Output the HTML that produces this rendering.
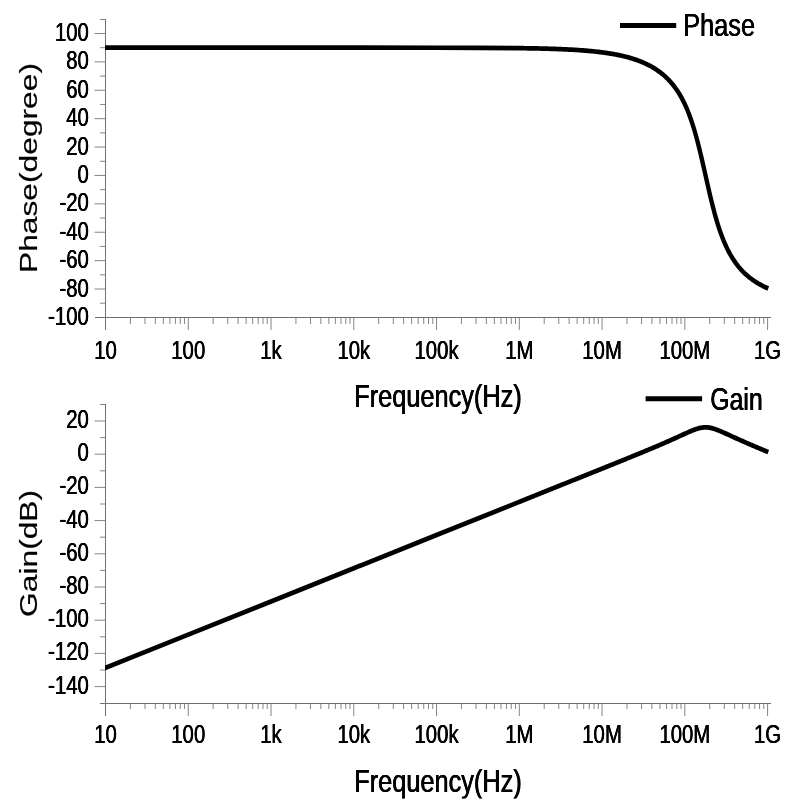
<!DOCTYPE html>
<html><head><meta charset="utf-8"><title>Bode plot</title>
<style>html,body{margin:0;padding:0;background:#fff}svg{display:block}
text{font-family:"Liberation Sans",Arial,sans-serif;fill:#000}
.k{font-size:25.4px;text-shadow:.3px 0 #000,-.3px 0 #000}
.h{font-size:31.6px;text-shadow:.36px 0 #000,-.36px 0 #000}
.v{font-size:31.75px;text-anchor:middle;stroke:#000;stroke-width:.25px}
.e{text-anchor:end}.m{text-anchor:middle}</style>
</head><body>
<svg width="798" height="811" viewBox="0 0 798 811">
<rect width="798" height="811" fill="#fff"/>
<path d="M105.5 19V330.00M94.5 317.5H770.5" stroke="#707070" stroke-width="1" fill="none" shape-rendering="crispEdges"/>
<path d="M94.5 289.01H105.0M94.5 260.62H105.0M94.5 232.23H105.0M94.5 203.84H105.0M94.5 175.45H105.0M94.5 147.06H105.0M94.5 118.67H105.0M94.5 90.28H105.0M94.5 61.89H105.0M94.5 33.5H105.0M100.0 303.2H105.0M100.0 274.81H105.0M100.0 246.43H105.0M100.0 218.03H105.0M100.0 189.65H105.0M100.0 161.25H105.0M100.0 132.87H105.0M100.0 104.47H105.0M100.0 76.09H105.0M100.0 47.7H105.0M100.0 19.5H105.0M130.41 318.0v6.0M144.99 318.0v6.0M155.33 318.0v6.0M163.35 318.0v6.0M169.9 318.0v6.0M175.44 318.0v6.0M180.24 318.0v6.0M184.47 318.0v6.0M188.26 318.0V330.0M213.17 318.0v6.0M227.75 318.0v6.0M238.09 318.0v6.0M246.11 318.0v6.0M252.66 318.0v6.0M258.2 318.0v6.0M263.0 318.0v6.0M267.23 318.0v6.0M271.02 318.0V330.0M295.93 318.0v6.0M310.51 318.0v6.0M320.85 318.0v6.0M328.87 318.0v6.0M335.42 318.0v6.0M340.96 318.0v6.0M345.76 318.0v6.0M349.99 318.0v6.0M353.78 318.0V330.0M378.69 318.0v6.0M393.27 318.0v6.0M403.61 318.0v6.0M411.63 318.0v6.0M418.18 318.0v6.0M423.72 318.0v6.0M428.52 318.0v6.0M432.75 318.0v6.0M436.54 318.0V330.0M461.45 318.0v6.0M476.03 318.0v6.0M486.37 318.0v6.0M494.39 318.0v6.0M500.94 318.0v6.0M506.48 318.0v6.0M511.28 318.0v6.0M515.51 318.0v6.0M519.3 318.0V330.0M544.21 318.0v6.0M558.79 318.0v6.0M569.13 318.0v6.0M577.15 318.0v6.0M583.7 318.0v6.0M589.24 318.0v6.0M594.04 318.0v6.0M598.27 318.0v6.0M602.06 318.0V330.0M626.97 318.0v6.0M641.55 318.0v6.0M651.89 318.0v6.0M659.91 318.0v6.0M666.46 318.0v6.0M672.0 318.0v6.0M676.8 318.0v6.0M681.03 318.0v6.0M684.82 318.0V330.0M709.73 318.0v6.0M724.31 318.0v6.0M734.65 318.0v6.0M742.67 318.0v6.0M749.22 318.0v6.0M754.76 318.0v6.0M759.56 318.0v6.0M763.79 318.0v6.0M767.58 318.0V330.0" stroke="#868686" stroke-width="1" fill="none"/>
<path d="M105.5 404V716.00M100.0 703.5H770.5" stroke="#707070" stroke-width="1" fill="none" shape-rendering="crispEdges"/>
<path d="M94.5 686.6H105.0M94.5 653.4H105.0M94.5 620.2H105.0M94.5 587.0H105.0M94.5 553.8H105.0M94.5 520.6H105.0M94.5 487.4H105.0M94.5 454.2H105.0M94.5 421.0H105.0M100.0 670.0H105.0M100.0 636.8H105.0M100.0 603.6H105.0M100.0 570.4H105.0M100.0 537.2H105.0M100.0 504.0H105.0M100.0 470.8H105.0M100.0 437.6H105.0M100.0 404.5H105.0M130.41 704.0v5.0M144.99 704.0v5.0M155.33 704.0v5.0M163.35 704.0v5.0M169.9 704.0v5.0M175.44 704.0v5.0M180.24 704.0v5.0M184.47 704.0v5.0M188.26 704.0V716.0M213.17 704.0v5.0M227.75 704.0v5.0M238.09 704.0v5.0M246.11 704.0v5.0M252.66 704.0v5.0M258.2 704.0v5.0M263.0 704.0v5.0M267.23 704.0v5.0M271.02 704.0V716.0M295.93 704.0v5.0M310.51 704.0v5.0M320.85 704.0v5.0M328.87 704.0v5.0M335.42 704.0v5.0M340.96 704.0v5.0M345.76 704.0v5.0M349.99 704.0v5.0M353.78 704.0V716.0M378.69 704.0v5.0M393.27 704.0v5.0M403.61 704.0v5.0M411.63 704.0v5.0M418.18 704.0v5.0M423.72 704.0v5.0M428.52 704.0v5.0M432.75 704.0v5.0M436.54 704.0V716.0M461.45 704.0v5.0M476.03 704.0v5.0M486.37 704.0v5.0M494.39 704.0v5.0M500.94 704.0v5.0M506.48 704.0v5.0M511.28 704.0v5.0M515.51 704.0v5.0M519.3 704.0V716.0M544.21 704.0v5.0M558.79 704.0v5.0M569.13 704.0v5.0M577.15 704.0v5.0M583.7 704.0v5.0M589.24 704.0v5.0M594.04 704.0v5.0M598.27 704.0v5.0M602.06 704.0V716.0M626.97 704.0v5.0M641.55 704.0v5.0M651.89 704.0v5.0M659.91 704.0v5.0M666.46 704.0v5.0M672.0 704.0v5.0M676.8 704.0v5.0M681.03 704.0v5.0M684.82 704.0V716.0M709.73 704.0v5.0M724.31 704.0v5.0M734.65 704.0v5.0M742.67 704.0v5.0M749.22 704.0v5.0M754.76 704.0v5.0M759.56 704.0v5.0M763.79 704.0v5.0M767.58 704.0V716.0" stroke="#868686" stroke-width="1" fill="none"/>
<g opacity="0.999">
<text class="k e" transform="translate(88.80 325.00) scale(0.8 1)">-100</text>
<text class="k e" transform="translate(88.80 296.61) scale(0.8 1)">-80</text>
<text class="k e" transform="translate(88.80 268.22) scale(0.8 1)">-60</text>
<text class="k e" transform="translate(88.80 239.83) scale(0.8 1)">-40</text>
<text class="k e" transform="translate(88.80 211.44) scale(0.8 1)">-20</text>
<text class="k e" transform="translate(88.80 183.05) scale(0.8 1)">0</text>
<text class="k e" transform="translate(88.80 154.66) scale(0.8 1)">20</text>
<text class="k e" transform="translate(88.80 126.27) scale(0.8 1)">40</text>
<text class="k e" transform="translate(88.80 97.88) scale(0.8 1)">60</text>
<text class="k e" transform="translate(88.80 69.49) scale(0.8 1)">80</text>
<text class="k e" transform="translate(88.80 41.10) scale(0.8 1)">100</text>
<text class="k e" transform="translate(88.80 693.60) scale(0.8 1)">-140</text>
<text class="k e" transform="translate(88.80 660.40) scale(0.8 1)">-120</text>
<text class="k e" transform="translate(88.80 627.20) scale(0.8 1)">-100</text>
<text class="k e" transform="translate(88.80 594.00) scale(0.8 1)">-80</text>
<text class="k e" transform="translate(88.80 560.80) scale(0.8 1)">-60</text>
<text class="k e" transform="translate(88.80 527.60) scale(0.8 1)">-40</text>
<text class="k e" transform="translate(88.80 494.40) scale(0.8 1)">-20</text>
<text class="k e" transform="translate(88.80 461.20) scale(0.8 1)">0</text>
<text class="k e" transform="translate(88.80 428.00) scale(0.8 1)">20</text>
<text class="k m" transform="translate(105.50 358.70) scale(0.8 1)">10</text>
<text class="k m" transform="translate(105.50 743.40) scale(0.8 1)">10</text>
<text class="k m" transform="translate(188.26 358.70) scale(0.8 1)">100</text>
<text class="k m" transform="translate(188.26 743.40) scale(0.8 1)">100</text>
<text class="k m" transform="translate(271.02 358.70) scale(0.8 1)">1k</text>
<text class="k m" transform="translate(271.02 743.40) scale(0.8 1)">1k</text>
<text class="k m" transform="translate(353.78 358.70) scale(0.8 1)">10k</text>
<text class="k m" transform="translate(353.78 743.40) scale(0.8 1)">10k</text>
<text class="k m" transform="translate(436.54 358.70) scale(0.8 1)">100k</text>
<text class="k m" transform="translate(436.54 743.40) scale(0.8 1)">100k</text>
<text class="k m" transform="translate(519.30 358.70) scale(0.8 1)">1M</text>
<text class="k m" transform="translate(519.30 743.40) scale(0.8 1)">1M</text>
<text class="k m" transform="translate(602.06 358.70) scale(0.8 1)">10M</text>
<text class="k m" transform="translate(602.06 743.40) scale(0.8 1)">10M</text>
<text class="k m" transform="translate(684.82 358.70) scale(0.8 1)">100M</text>
<text class="k m" transform="translate(684.82 743.40) scale(0.8 1)">100M</text>
<text class="k m" transform="translate(767.58 358.70) scale(0.8 1)">1G</text>
<text class="k m" transform="translate(767.58 743.40) scale(0.8 1)">1G</text>
<text class="h m" transform="translate(438.00 407.10) scale(0.8025 1)">Frequency(Hz)</text>
<text class="h m" transform="translate(438.00 791.60) scale(0.8025 1)">Frequency(Hz)</text>
<text class="h" transform="translate(683.20 35.80) scale(0.8025 1)">Phase</text>
<text class="h" transform="translate(710.30 410.00) scale(0.785 1)">Gain</text>
<text class="v" transform="translate(37.3 168) rotate(-90) scale(1 0.775)">Phase(degree)</text>
<text class="v" transform="translate(37.2 553.4) rotate(-90) scale(1 0.775)">Gain(dB)</text>
</g>
<clipPath id="cp"><rect x="105" y="0" width="693" height="811"/></clipPath>
<g clip-path="url(#cp)"><g transform="scale(0.93 1)" fill="none" stroke="#000" stroke-width="4.7" stroke-linejoin="round">
<path d="M104.54 47.70L113.44 47.70L202.43 47.70L291.42 47.70L380.41 47.70L469.40 47.74L513.89 47.84L558.39 48.16L559.50 48.17L560.61 48.19L561.72 48.20L562.84 48.22L563.95 48.23L565.06 48.25L566.17 48.26L567.29 48.28L568.40 48.30L569.51 48.31L570.62 48.33L571.74 48.35L572.85 48.37L573.96 48.39L575.07 48.41L576.18 48.43L577.30 48.45L578.41 48.47L579.52 48.50L580.63 48.52L581.75 48.54L582.86 48.57L583.97 48.59L585.08 48.62L586.20 48.65L587.31 48.68L588.42 48.70L589.53 48.73L590.65 48.76L591.76 48.80L592.87 48.83L593.98 48.86L595.10 48.89L596.21 48.93L597.32 48.97L598.43 49.00L599.54 49.04L600.66 49.08L601.77 49.12L602.88 49.16L603.99 49.21L605.11 49.25L606.22 49.29L607.33 49.34L608.44 49.39L609.56 49.44L610.67 49.49L611.78 49.54L612.89 49.60L614.01 49.65L615.12 49.71L616.23 49.77L617.34 49.83L618.45 49.89L619.57 49.96L620.68 50.02L621.79 50.09L622.90 50.16L624.02 50.23L625.13 50.31L626.24 50.38L627.35 50.46L628.47 50.54L629.58 50.62L630.69 50.71L631.80 50.80L632.92 50.89L634.03 50.98L635.14 51.08L636.25 51.18L637.37 51.28L638.48 51.38L639.59 51.49L640.70 51.60L641.81 51.72L642.93 51.84L644.04 51.96L645.15 52.08L646.26 52.21L647.38 52.34L648.49 52.48L649.60 52.62L650.71 52.76L651.83 52.91L652.94 53.07L654.05 53.22L655.16 53.39L656.28 53.55L657.39 53.73L658.50 53.90L659.61 54.09L660.72 54.27L661.84 54.47L662.95 54.67L664.06 54.87L665.17 55.09L666.29 55.30L667.40 55.53L668.51 55.76L669.62 56.00L670.74 56.24L671.85 56.50L672.96 56.76L674.07 57.03L675.19 57.30L676.30 57.59L677.41 57.88L678.52 58.19L679.63 58.50L680.75 58.82L681.86 59.16L682.97 59.50L684.08 59.85L685.20 60.22L686.31 60.60L687.42 60.99L688.53 61.39L689.65 61.80L690.76 62.23L691.87 62.67L692.98 63.13L694.10 63.60L695.21 64.08L696.32 64.59L697.43 65.11L698.55 65.65L699.66 66.20L700.77 66.78L701.88 67.37L702.99 67.99L704.11 68.63L705.22 69.29L706.33 69.97L707.44 70.68L708.56 71.42L709.67 72.18L710.78 72.97L711.89 73.79L713.01 74.65L714.12 75.53L715.23 76.45L716.34 77.41L717.46 78.41L718.57 79.45L719.68 80.53L720.79 81.66L721.90 82.84L723.02 84.07L724.13 85.35L725.24 86.69L726.35 88.10L727.47 89.57L728.58 91.10L729.69 92.71L730.80 94.40L731.92 96.18L733.03 98.04L734.14 99.99L735.25 102.04L736.37 104.20L737.48 106.47L738.59 108.86L739.70 111.37L740.82 114.01L741.93 116.79L743.04 119.71L744.15 122.78L745.26 126.00L746.38 129.37L747.49 132.90L748.60 136.58L749.71 140.41L750.83 144.39L751.94 148.52L753.05 152.76L754.16 157.12L755.28 161.58L756.39 166.11L757.50 170.69L758.61 175.30L759.73 179.90L760.84 184.49L761.95 189.02L763.06 193.48L764.17 197.85L765.29 202.10L766.40 206.23L767.51 210.22L768.62 214.07L769.74 217.76L770.85 221.30L771.96 224.68L773.07 227.91L774.19 230.99L775.30 233.92L776.41 236.71L777.52 239.36L778.64 241.88L779.75 244.27L780.86 246.55L781.97 248.72L783.08 250.78L784.20 252.74L785.31 254.60L786.42 256.38L787.53 258.07L788.65 259.69L789.76 261.23L790.87 262.71L791.98 264.11L793.10 265.46L794.21 266.75L795.32 267.98L796.43 269.16L797.55 270.29L798.66 271.38L799.77 272.42L800.88 273.42L802.00 274.38L803.11 275.31L804.22 276.20L805.33 277.05L806.44 277.88L807.56 278.67L808.67 279.43L809.78 280.17L810.89 280.88L812.01 281.57L813.12 282.23L814.23 282.87L815.34 283.49L816.46 284.08L817.57 284.66L818.68 285.22L819.79 285.76L820.91 286.28L822.02 286.78L823.13 287.27L824.24 287.74L825.35 288.20L826.11 288.50"/>
<path d="M104.54 671.16L113.44 667.84L202.43 634.64L291.42 601.44L380.41 568.24L469.40 535.04L513.89 518.44L558.39 501.84L559.50 501.43L560.61 501.01L561.72 500.60L562.84 500.18L563.95 499.77L565.06 499.35L566.17 498.94L567.29 498.52L568.40 498.11L569.51 497.69L570.62 497.28L571.74 496.86L572.85 496.45L573.96 496.03L575.07 495.62L576.18 495.20L577.30 494.79L578.41 494.37L579.52 493.96L580.63 493.54L581.75 493.13L582.86 492.71L583.97 492.30L585.08 491.88L586.20 491.47L587.31 491.05L588.42 490.64L589.53 490.22L590.65 489.81L591.76 489.39L592.87 488.98L593.98 488.56L595.10 488.15L596.21 487.73L597.32 487.32L598.43 486.90L599.54 486.49L600.66 486.07L601.77 485.65L602.88 485.24L603.99 484.82L605.11 484.41L606.22 483.99L607.33 483.58L608.44 483.16L609.56 482.75L610.67 482.33L611.78 481.92L612.89 481.50L614.01 481.09L615.12 480.67L616.23 480.26L617.34 479.84L618.45 479.43L619.57 479.01L620.68 478.60L621.79 478.18L622.90 477.77L624.02 477.35L625.13 476.94L626.24 476.52L627.35 476.10L628.47 475.69L629.58 475.27L630.69 474.86L631.80 474.44L632.92 474.03L634.03 473.61L635.14 473.20L636.25 472.78L637.37 472.36L638.48 471.95L639.59 471.53L640.70 471.12L641.81 470.70L642.93 470.28L644.04 469.87L645.15 469.45L646.26 469.04L647.38 468.62L648.49 468.20L649.60 467.79L650.71 467.37L651.83 466.95L652.94 466.54L654.05 466.12L655.16 465.70L656.28 465.29L657.39 464.87L658.50 464.45L659.61 464.04L660.72 463.62L661.84 463.20L662.95 462.78L664.06 462.36L665.17 461.95L666.29 461.53L667.40 461.11L668.51 460.69L669.62 460.27L670.74 459.85L671.85 459.43L672.96 459.01L674.07 458.59L675.19 458.17L676.30 457.75L677.41 457.33L678.52 456.91L679.63 456.49L680.75 456.07L681.86 455.65L682.97 455.22L684.08 454.80L685.20 454.38L686.31 453.95L687.42 453.53L688.53 453.10L689.65 452.68L690.76 452.25L691.87 451.83L692.98 451.40L694.10 450.97L695.21 450.54L696.32 450.11L697.43 449.68L698.55 449.25L699.66 448.82L700.77 448.38L701.88 447.95L702.99 447.51L704.11 447.08L705.22 446.64L706.33 446.20L707.44 445.76L708.56 445.32L709.67 444.87L710.78 444.43L711.89 443.98L713.01 443.54L714.12 443.09L715.23 442.64L716.34 442.18L717.46 441.73L718.57 441.27L719.68 440.82L720.79 440.36L721.90 439.90L723.02 439.43L724.13 438.97L725.24 438.50L726.35 438.03L727.47 437.56L728.58 437.09L729.69 436.62L730.80 436.14L731.92 435.67L733.03 435.20L734.14 434.72L735.25 434.25L736.37 433.78L737.48 433.31L738.59 432.84L739.70 432.38L740.82 431.92L741.93 431.48L743.04 431.04L744.15 430.61L745.26 430.19L746.38 429.80L747.49 429.42L748.60 429.06L749.71 428.73L750.83 428.42L751.94 428.15L753.05 427.91L754.16 427.72L755.28 427.56L756.39 427.44L757.50 427.37L758.61 427.35L759.73 427.37L760.84 427.44L761.95 427.55L763.06 427.70L764.17 427.90L765.29 428.13L766.40 428.40L767.51 428.71L768.62 429.04L769.74 429.39L770.85 429.77L771.96 430.17L773.07 430.58L774.19 431.01L775.30 431.45L776.41 431.89L777.52 432.35L778.64 432.81L779.75 433.28L780.86 433.74L781.97 434.22L783.08 434.69L784.20 435.16L785.31 435.64L786.42 436.11L787.53 436.59L788.65 437.06L789.76 437.53L790.87 438.00L791.98 438.47L793.10 438.94L794.21 439.40L795.32 439.86L796.43 440.33L797.55 440.79L798.66 441.24L799.77 441.70L800.88 442.15L802.00 442.61L803.11 443.06L804.22 443.51L805.33 443.95L806.44 444.40L807.56 444.84L808.67 445.29L809.78 445.73L810.89 446.17L812.01 446.61L813.12 447.05L814.23 447.48L815.34 447.92L816.46 448.35L817.57 448.79L818.68 449.22L819.79 449.65L820.91 450.08L822.02 450.51L823.13 450.94L824.24 451.37L825.35 451.80L826.11 452.09"/>
</g></g>
<path d="M620 25.4H676.2M645.6 398.7H702.1" stroke="#000" stroke-width="5" fill="none"/>
</svg>
</body></html>
